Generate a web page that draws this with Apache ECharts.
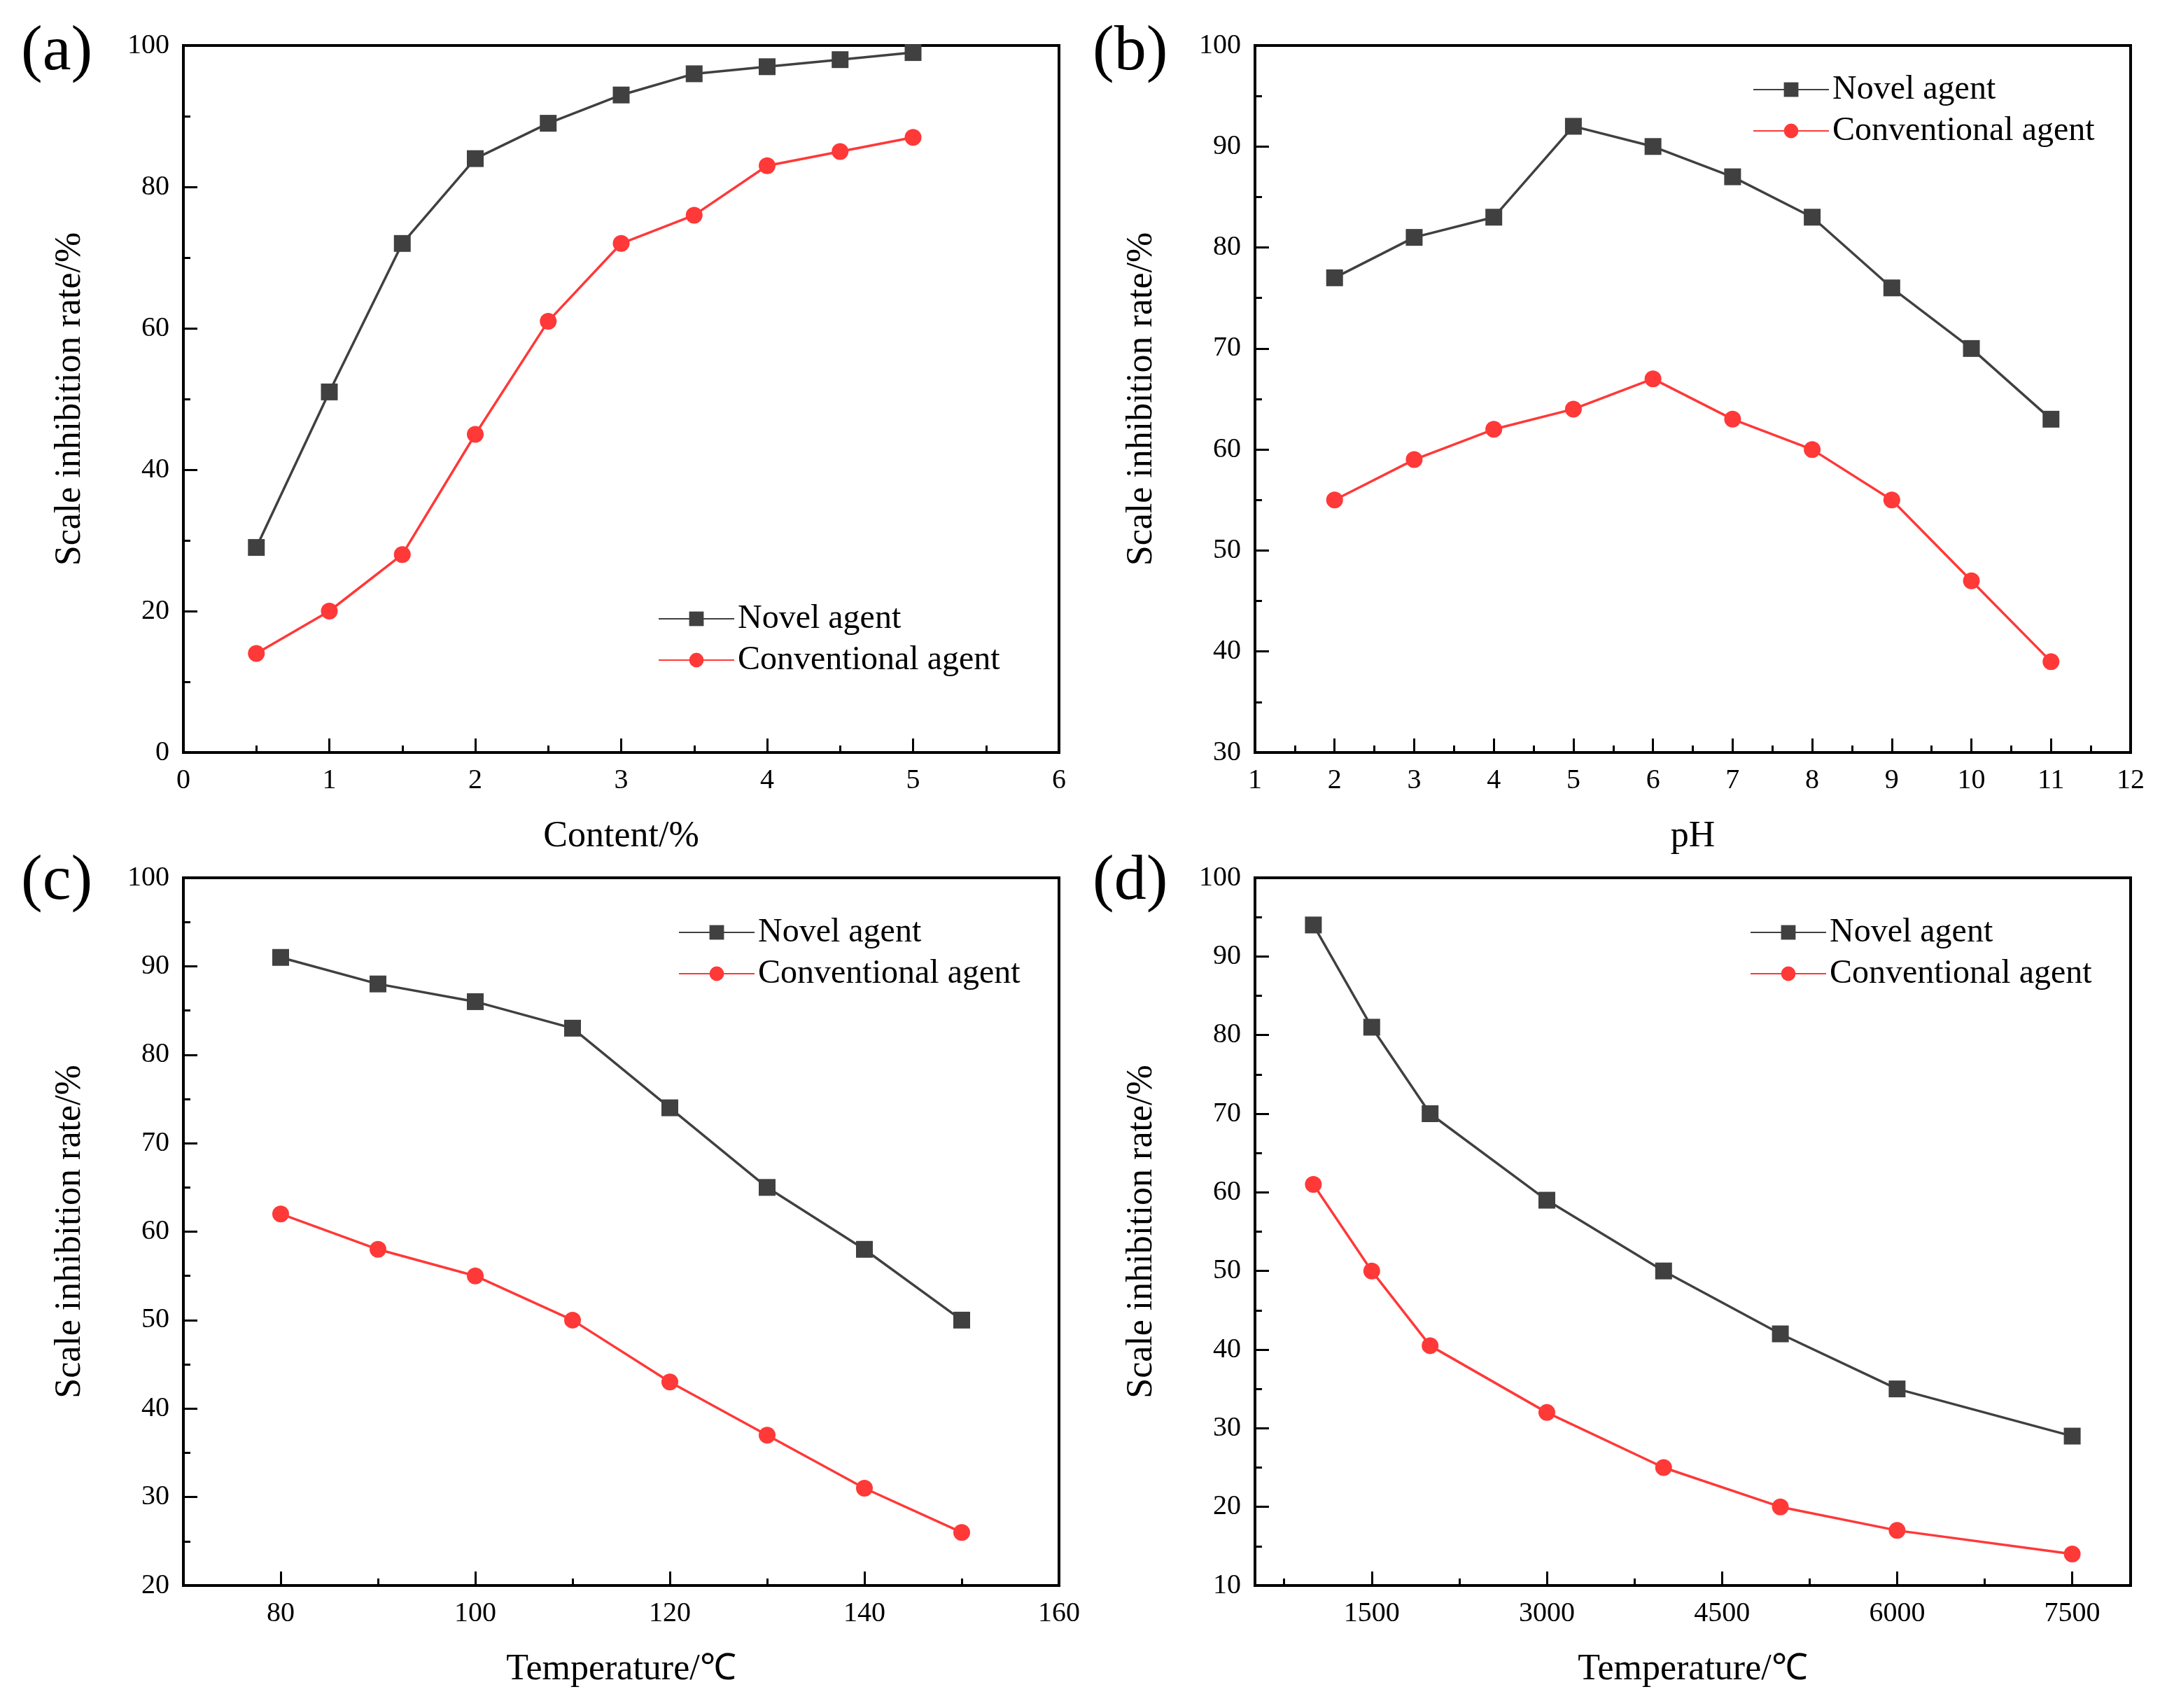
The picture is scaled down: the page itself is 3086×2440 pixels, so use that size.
<!DOCTYPE html>
<html>
<head>
<meta charset="utf-8">
<script src="https://cdn.jsdelivr.net/npm/echarts@6/dist/echarts.min.js"></script>
<style>
html, body { margin: 0; padding: 0; background: #fff; }
#main { width: 3086px; height: 2440px; }
</style>
</head>
<body>
<div id="main"></div>
<script>
// (a) content
var contentX = [0.5, 1, 1.5, 2, 2.5, 3, 3.5, 4, 4.5, 5];
var contentNovel = [29, 51, 72, 84, 89, 93, 96, 97, 98, 99];
var contentConv = [14, 20, 28, 45, 61, 72, 76, 83, 85, 87];
// (b) pH
var phX = [2, 3, 4, 5, 6, 7, 8, 9, 10, 11];
var phNovel = [77, 81, 83, 92, 90, 87, 83, 76, 70, 63];
var phConv = [55, 59, 62, 64, 67, 63, 60, 55, 47, 39];
// (c) temperature
var tempX = [80, 90, 100, 110, 120, 130, 140, 150];
var tempNovel = [91, 88, 86, 83, 74, 65, 58, 50];
var tempConv = [62, 58, 55, 50, 43, 37, 31, 26];
var tempTicks = [80, 100, 120, 140, 160];
var tempMinor = [90, 110, 130, 150];
// (d) second temperature panel
var dX = [1000, 1500, 2000, 3000, 4000, 5000, 6000, 7500];
var dNovel = [94, 81, 70, 59, 50, 42, 35, 29];
var dConv = [61, 50, 40.5, 32, 25, 20, 17, 14];
var dTicks = [1500, 3000, 4500, 6000, 7500];
var dMinor = [750, 2250, 3750, 5250, 6750];

var seriesNames = ['Novel agent', 'Conventional agent'];
var panelLabels = ['(a)', '(b)', '(c)', '(d)'];
var yName = 'Scale inhibition rate/%';

var font = "'Liberation Serif', 'Times New Roman', serif";
var novelColor = '#404040';
var convColor = '#ff3838';

function pairs(xs, ys) {
    return xs.map(function (x, i) { return [x, ys[i]]; });
}

function valueAxis(idx, min, max, interval, name, isX) {
    var ax = {
        type: 'value',
        gridIndex: idx,
        min: min,
        max: max,
        name: name,
        nameLocation: 'middle',
        nameGap: isX ? 94 : 136,
        nameTextStyle: { color: '#000', fontSize: 52, fontFamily: font },
        axisLine: { show: true, onZero: false, lineStyle: { color: '#000', width: 4 } },
        axisTick: { show: true, inside: true, length: 20, lineStyle: { color: '#000', width: 3 } },
        minorTick: { show: true, splitNumber: 2, length: 10, lineStyle: { color: '#000', width: 3 } },
        splitLine: { show: false },
        minorSplitLine: { show: false },
        axisLabel: {
            color: '#000', fontSize: 40, fontFamily: font, margin: 20,
            formatter: function (v) { return String(v); }
        }
    };
    if (interval) ax.interval = interval;
    return ax;
}

var grids = [
    { left: 262, top: 65, width: 1251, height: 1010 },
    { left: 1793, top: 65, width: 1251, height: 1010 },
    { left: 262, top: 1254, width: 1251, height: 1011 },
    { left: 1793, top: 1254, width: 1251, height: 1011 }
];
grids.forEach(function (g) {
    g.show = true;
    g.borderColor = '#000';
    g.borderWidth = 4;
    g.containLabel = false;
    g.outerBoundsMode = 'none';
});

// main x axes
var xA = valueAxis(0, 0, 6, 1, 'Content/%', true);
var xB = valueAxis(1, 1, 12, 1, 'pH', true);
var xC = valueAxis(2, 70, 160, null, 'Temperature/\u2103', true);
xC.minorTick = { show: false };
xC.axisLabel.customValues = tempTicks;
xC.axisTick.customValues = tempTicks;
var xD = valueAxis(3, 500, 8000, null, 'Temperature/\u2103', true);
xD.minorTick = { show: false };
xD.axisLabel.customValues = dTicks;
xD.axisTick.customValues = dTicks;

// extra axes only for the short ticks of (c) and (d)
function minorAxis(idx, min, max, vals) {
    return {
        type: 'value', gridIndex: idx, min: min, max: max, position: 'bottom',
        axisLine: { show: false },
        axisLabel: { show: false },
        splitLine: { show: false },
        axisTick: { show: true, inside: true, length: 10, customValues: vals, lineStyle: { color: '#000', width: 3 } }
    };
}
var xC2 = minorAxis(2, 70, 160, tempMinor);
var xD2 = minorAxis(3, 500, 8000, dMinor);

var yA = valueAxis(0, 0, 100, 20, yName, false);
var yB = valueAxis(1, 30, 100, 10, yName, false);
var yC = valueAxis(2, 20, 100, 10, yName, false);
var yD = valueAxis(3, 10, 100, 10, yName, false);

function makeSeries(idx, xs, novel, conv) {
    return [
        {
            name: seriesNames[0], type: 'line', xAxisIndex: idx, yAxisIndex: idx,
            data: pairs(xs, novel), symbol: 'rect', symbolSize: 24,
            lineStyle: { color: novelColor, width: 3.5 },
            itemStyle: { color: novelColor }, animation: false
        },
        {
            name: seriesNames[1], type: 'line', xAxisIndex: idx, yAxisIndex: idx,
            data: pairs(xs, conv), symbol: 'circle', symbolSize: 24,
            lineStyle: { color: convColor, width: 3.5 },
            itemStyle: { color: convColor }, animation: false
        }
    ];
}

var series = [].concat(
    makeSeries(0, contentX, contentNovel, contentConv),
    makeSeries(1, phX, phNovel, phConv),
    makeSeries(2, tempX, tempNovel, tempConv),
    makeSeries(3, dX, dNovel, dConv)
);

var legendPos = [[935, 855], [2499, 99], [964, 1303], [2495, 1303]];
var legends = legendPos.map(function (p) {
    return {
        left: p[0], top: p[1], orient: 'vertical',
        data: seriesNames, itemWidth: 108, itemHeight: 26, itemGap: 11,
        textStyle: { color: '#000', fontSize: 48, fontFamily: font },
        selectedMode: false
    };
});

var labelPos = [[30, 79], [1561, 79], [30, 1264], [1561, 1264]];
var labels = labelPos.map(function (p, i) {
    return {
        type: 'text', left: p[0], top: p[1] - 50,
        style: { text: panelLabels[i], fill: '#000', font: '92px ' + font }
    };
});

var chart = echarts.init(document.getElementById('main'), null, { renderer: 'canvas' });
chart.setOption({
    backgroundColor: '#fff',
    animation: false,
    grid: grids,
    xAxis: [xA, xB, xC, xD, xC2, xD2],
    yAxis: [yA, yB, yC, yD],
    legend: legends,
    graphic: labels,
    series: series
});
</script>
</body>
</html>
